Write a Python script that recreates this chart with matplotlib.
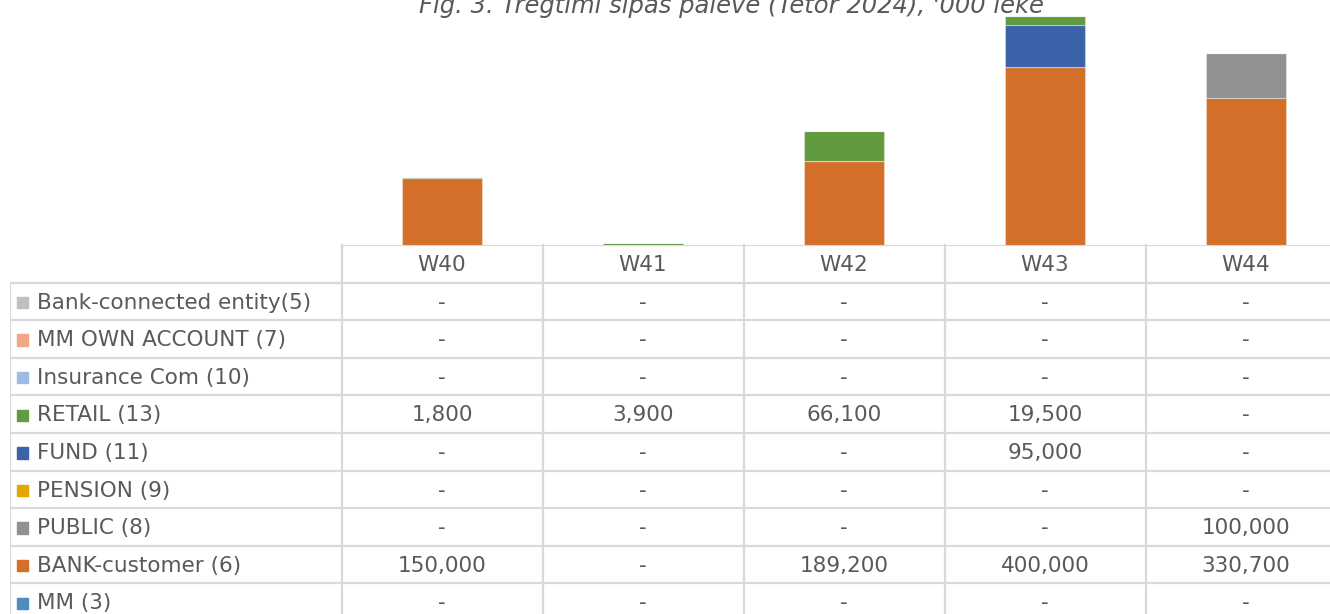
import numpy as np
import matplotlib.pyplot as plt

# weekly trading by counterparty, '000 lekë
weeks = ['W40', 'W41', 'W42', 'W43', 'W44']
mm = [0, 0, 0, 0, 0]
bank_customer = [150000, 0, 189200, 400000, 330700]
public = [0, 0, 0, 0, 100000]
pension = [0, 0, 0, 0, 0]
fund = [0, 0, 0, 95000, 0]
retail = [1800, 3900, 66100, 19500, 0]
insurance = [0, 0, 0, 0, 0]
mm_own = [0, 0, 0, 0, 0]
bank_connected = [0, 0, 0, 0, 0]

# bottom-to-top stacking order
series = [
    ('MM (3)', mm, '#4E8BC0'),
    ('BANK-customer (6)', bank_customer, '#D46F2A'),
    ('PUBLIC (8)', public, '#919191'),
    ('PENSION (9)', pension, '#E2A800'),
    ('FUND (11)', fund, '#3A63AA'),
    ('RETAIL (13)', retail, '#629A3F'),
    ('Insurance Com (10)', insurance, '#9DBCE1'),
    ('MM OWN ACCOUNT (7)', mm_own, '#F3A685'),
    ('Bank-connected entity(5)', bank_connected, '#BFBFBF'),
]

W, H = 1330, 614
fig = plt.figure(figsize=(W / 100, H / 100), dpi=100)
txt = '#595959'
grid = '#D9D9D9'
fs = 15.5


def box(x0, y0, x1, y1):
    # pixel box (top-left origin) -> figure fraction rect
    return [x0 / W, 1 - y1 / H, (x1 - x0) / W, (y1 - y0) / H]


col_w = 201.0
x_left = 341.5
x_right = x_left + 5 * col_w
base = 245.0
row_h = 37.6
n_rows = 10
lw_cols = (x_left - 10) / col_w

# bars
ax = fig.add_axes(box(x_left, 0, x_right, base))
x = np.arange(len(weeks))
bottom = np.zeros(len(weeks))
for name, vals, c in series:
    vals = np.array(vals, dtype=float)
    ax.bar(x, vals, 0.4, bottom=bottom, color=c,
           edgecolor=(1, 1, 1, 0.35), linewidth=0.8)
    bottom += vals
ax.set_xlim(-0.5, 4.5)
ax.set_ylim(0, 245 * 400000 / 178)
ax.axis('off')

# data table
tb = fig.add_axes(box(10, base, x_right, base + n_rows * row_h))
tb.set_xlim(-0.5 - lw_cols, 4.5)
tb.set_ylim(n_rows, 0)
tb.axis('off')
for xi in np.arange(-0.5, 4.6, 1.0):
    tb.plot([xi, xi], [0, n_rows], color=grid, lw=1.6, clip_on=False)
tb.plot([-0.5 - lw_cols] * 2, [1, n_rows], color=grid, lw=1.6)
tb.plot([-0.5, 4.5], [0, 0], color=grid, lw=1.6)
for r in range(1, n_rows):
    tb.plot([-0.5 - lw_cols, 4.5], [r, r], color=grid, lw=1.6)

for i, w in enumerate(weeks):
    tb.text(i, 0.53, w, ha='center', va='center', color=txt, fontsize=fs)

key_w = 11 / col_w
for r, (name, vals, c) in enumerate(reversed(series), start=1):
    yc = r + 0.53
    tb.add_patch(plt.Rectangle((-0.5 - lw_cols + 7 / col_w, yc - 0.15),
                               key_w, 0.3, color=c))
    tb.text(-0.5 - lw_cols + 27 / col_w, yc, name, ha='left', va='center',
            color=txt, fontsize=fs)
    for i, v in enumerate(vals):
        s = f'{v:,}' if v else '-'
        tb.text(i, yc, s, ha='center', va='center', color=txt, fontsize=fs)

fig.text(731 / W, 1 - 12.7 / H,
         "Fig. 3. Tregtimi sipas palëve (Tetor 2024), '000 lekë",
         ha='center', va='baseline', style='italic', color=txt, fontsize=17.5)

fig.savefig('out.png', dpi=100)
